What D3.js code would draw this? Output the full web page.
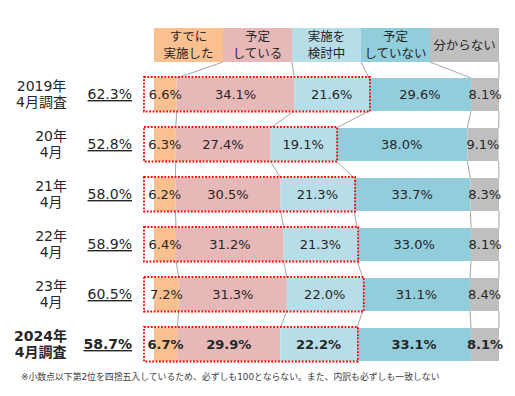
<!DOCTYPE html>
<html>
<head>
<meta charset="utf-8">
<script src="https://cdn.jsdelivr.net/npm/d3@7"></script>
<style>
  body { margin: 0; background: #fff; }
  svg text { font-family: "DejaVu Sans", "Noto Sans CJK JP", sans-serif; fill: #262626; }
</style>
</head>
<body>
<div id="chart"></div>
<script>
// rows (top to bottom)
const yearLabels = ["2019年", "20年", "21年", "22年", "23年", "2024年"];
const monthLabels = ["4月調査", "4月", "4月", "4月", "4月", "4月調査"];
const totals = [62.3, 52.8, 58.0, 58.9, 60.5, 58.7];

// series
const seriesNames = [["すでに", "実施した"], ["予定", "している"], ["実施を", "検討中"], ["予定", "していない"], ["分からない"]];
const done = [6.6, 6.3, 6.2, 6.4, 7.2, 6.7];
const planned = [34.1, 27.4, 30.5, 31.2, 31.3, 29.9];
const considering = [21.6, 19.1, 21.3, 21.3, 22.0, 22.2];
const notPlanned = [29.6, 38.0, 33.7, 33.0, 31.1, 33.1];
const unknown = [8.1, 9.1, 8.3, 8.1, 8.4, 8.1];

const note = "※小数点以下第2位を四捨五入しているため、必ずしも100とならない。また、内訳も必ずしも一致しない";

var keys = ["done", "planned", "considering", "notPlanned", "unknown"];
var colors = ["#FAC090", "#E6B8B7", "#B7DEE8", "#92CDDC", "#BFBFBF"];

var rows = yearLabels.map(function(d, i) {
  return { idx: i, done: done[i], planned: planned[i], considering: considering[i],
           notPlanned: notPlanned[i], unknown: unknown[i] };
});
var stacked = d3.stack().keys(keys)(rows);

var width = 515, height = 396;
var svg = d3.select("#chart").append("svg")
  .attr("width", width)
  .attr("height", height);

var x = d3.scaleLinear().domain([0, 100]).range([154, 499]);
var y = d3.scaleBand().domain(d3.range(rows.length))
  .range([69.5, 369.5]).paddingInner(0.34).paddingOuter(0.17);
var bw = y.bandwidth();
var color = d3.scaleOrdinal().domain(keys).range(colors);

// legend boxes on top
var lx = d3.scaleBand().domain(keys).range([x(0), x(100)]);
var legTop = 28, legH = 34;
var leg = svg.append("g");
leg.selectAll("rect").data(keys).enter().append("rect")
  .attr("x", d => lx(d)).attr("y", legTop)
  .attr("width", lx.bandwidth()).attr("height", legH)
  .attr("fill", d => color(d));
leg.selectAll("text").data(keys).enter().append("text")
  .attr("x", d => lx(d) + lx.bandwidth() / 2)
  .attr("y", legTop + legH / 2)
  .attr("text-anchor", "middle")
  .style("font-size", "12.5px")
  .each(function(d, i) {
    var lines = seriesNames[i];
    var t = d3.select(this);
    lines.forEach(function(s, j) {
      t.append("tspan")
        .attr("x", lx(d) + lx.bandwidth() / 2)
        .attr("dy", j == 0 ? (lines.length == 1 ? 4.5 : -4) : 17)
        .text(s);
    });
  });

// series lines (connectors)
var conn = svg.append("g").attr("stroke", "#A6A6A6").attr("stroke-width", 1).attr("fill", "none");
stacked.forEach(function(layer, k) {
  conn.append("line")
    .attr("x1", lx(keys[k]) + lx.bandwidth()).attr("y1", legTop + legH)
    .attr("x2", x(layer[0][1])).attr("y2", y(0));
  for (var i = 0; i < layer.length - 1; i++) {
    conn.append("line")
      .attr("x1", x(layer[i][1])).attr("y1", y(i) + bw)
      .attr("x2", x(layer[i + 1][1])).attr("y2", y(i + 1));
  }
});

// bars
svg.append("g").selectAll("g").data(stacked).enter().append("g")
  .attr("fill", d => color(d.key))
  .selectAll("rect").data(d => d).enter().append("rect")
  .attr("x", d => x(d[0]))
  .attr("y", d => y(d.data.idx))
  .attr("width", d => x(d[1]) - x(d[0]))
  .attr("height", bw);

// red dotted boxes round the first three segments
svg.append("g").selectAll("rect").data(rows).enter().append("rect")
  .attr("x", x(0) - 10)
  .attr("y", d => y(d.idx) - 1)
  .attr("width", d => x(stacked[2][d.idx][1]) - x(0) + 11)
  .attr("height", bw + 1.5)
  .attr("fill", "none")
  .attr("stroke", "#FF0000")
  .attr("stroke-width", 1.8)
  .attr("stroke-dasharray", "1.8,1.6");

// segment labels
svg.append("g").selectAll("g").data(stacked).enter().append("g")
  .selectAll("text").data(d => d).enter().append("text")
  .attr("x", d => x((d[0] + d[1]) / 2))
  .attr("y", d => y(d.data.idx) + bw / 2 + 4.7)
  .attr("text-anchor", "middle")
  .style("font-size", "13px")
  .style("font-weight", d => d.data.idx == 5 ? "bold" : "normal")
  .text(d => (d[1] - d[0]).toFixed(1) + "%");

// row labels on the left
var rl = svg.append("g");
rows.forEach(function(r, i) {
  var c = y(i) + bw / 2;
  var g = rl.append("g")
    .style("font-size", "14px")
    .style("font-weight", i == 5 ? "bold" : "normal");
  var t1 = g.append("text").attr("y", c - 3.5).attr("text-anchor", "middle").text(yearLabels[i]);
  var t2 = g.append("text").attr("y", c + 12.5).attr("text-anchor", "middle").text(monthLabels[i]);
  var w = Math.max(t1.node().getComputedTextLength(), t2.node().getComputedTextLength());
  t1.attr("x", 67 - w / 2);
  t2.attr("x", 67 - w / 2);

  rl.append("text")
    .attr("x", 132).attr("y", c + 4.5)
    .attr("text-anchor", "end")
    .style("font-size", "14px")
    .style("font-weight", i == 5 ? "bold" : "normal")
    .style("text-decoration", "underline")
    .text(totals[i].toFixed(1) + "%");
});

svg.append("text")
  .attr("x", 21).attr("y", 379.5)
  .style("font-size", "8.85px")
  .style("fill", "#404040")
  .text(note);
</script>
</body>
</html>
